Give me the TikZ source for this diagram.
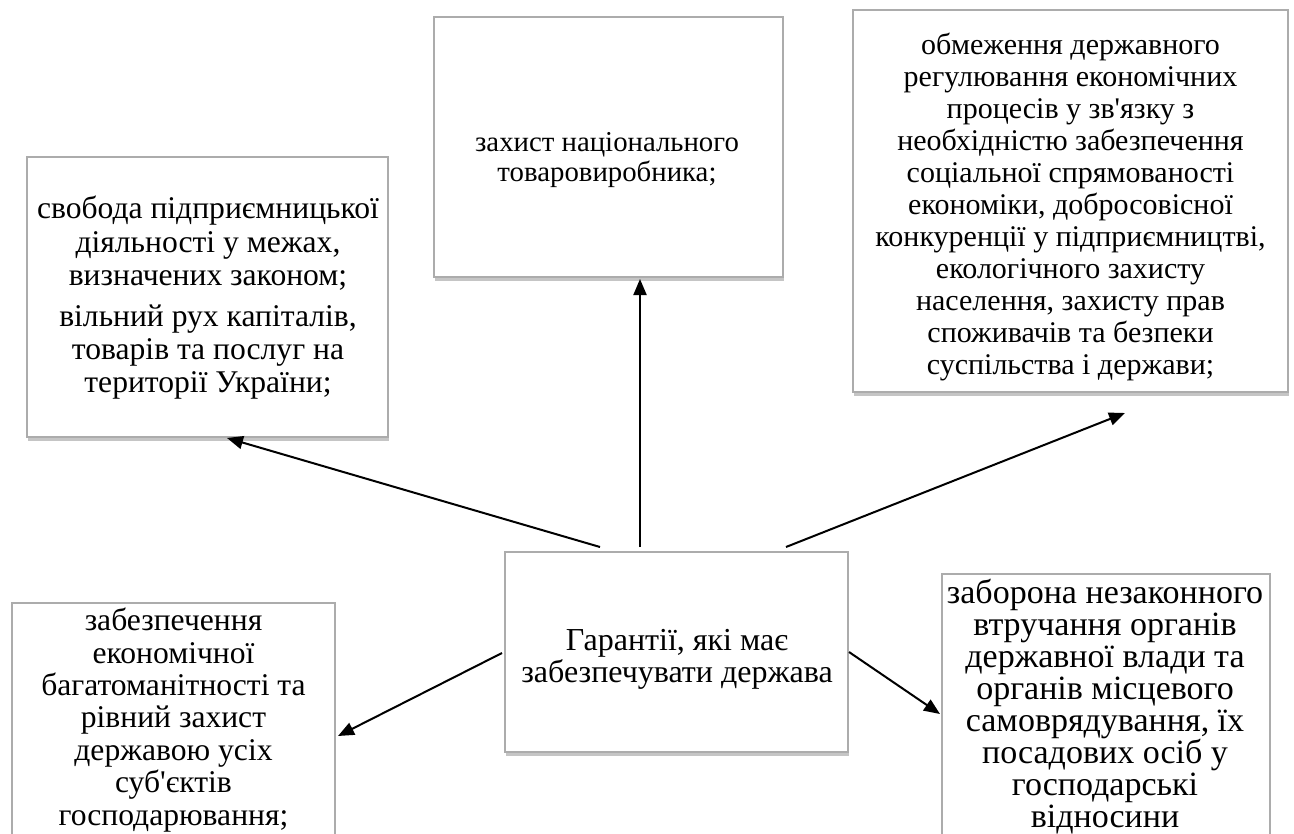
\documentclass[tikz,border=0pt]{standalone}
\usepackage{fontspec}
\setmainfont{Liberation Serif}
\usetikzlibrary{arrows.meta,shadows}
\begin{document}
\begin{tikzpicture}[x=0.5pt,y=-0.5pt,
  box/.style={draw=gray!65, line width=0.7pt, fill=white,
    drop shadow={shadow xshift=0.5pt, shadow yshift=-1.8pt, opacity=0.45},
    inner sep=0pt},
  txt/.style={align=center, inner sep=0pt},
  arr/.style={line width=1pt, -{Triangle[length=8pt,width=6.5pt]}}]
\useasboundingbox (0,0) rectangle (1294,834);
\clip (0,0) rectangle (1294,834);
\fill[white] (0,0) rectangle (1294,834);

% boxes
\node[box, minimum width=180.5pt, minimum height=140pt] (b1) at (207.5,297) {};
\node[box, minimum width=174.5pt, minimum height=130pt] (b2) at (608.5,147) {};
\node[box, minimum width=217.5pt, minimum height=191pt] (b3) at (1070.5,201) {};
\node[box, minimum width=161.5pt, minimum height=121pt] (b4) at (173.5,724) {};
\node[box, minimum width=171.5pt, minimum height=100pt] (b5) at (676.5,652) {};
\node[box, minimum width=164pt, minimum height=137pt] (b6) at (1106,711) {};

% texts
\node[txt, font=\fontsize{15.8pt}{16.6pt}\selectfont] (t1) at (208,298) {свобода підприємницької\\ діяльності у межах,\\ визначених законом;\\[4pt] вільний рух капіталів,\\ товарів та послуг на\\ території України;};
\node[txt, font=\fontsize{14.4pt}{15pt}\selectfont] (t2) at (607,160) {захист національного\\ товаровиробника;};
\node[txt, font=\fontsize{15pt}{16pt}\selectfont] (t3) at (1070.5,207) {обмеження державного\\ регулювання економічних\\ процесів у зв\textquotesingle язку з\\ необхідністю забезпечення\\ соціальної спрямованості\\ економіки, добросовісної\\ конкуренції у підприємництві,\\ екологічного захисту\\ населення, захисту прав\\ споживачів та безпеки\\ суспільства і держави;};
\node[txt, font=\fontsize{15.8pt}{16.2pt}\selectfont] (t4) at (173.5,720) {забезпечення\\ економічної\\ багатоманітності та\\ рівний захист\\ державою усіх\\ суб\textquotesingle єктів\\ господарювання;};
\node[txt, font=\fontsize{16pt}{16pt}\selectfont] (t5) at (677,659) {Гарантії, які має\\ забезпечувати держава};
\node[txt, font=\fontsize{17pt}{16pt}\selectfont] (t6) at (1105,707) {заборона незаконного\\ втручання органів\\ державної влади та\\ органів місцевого\\ самоврядування, їх\\ посадових осіб у\\ господарські\\ відносини};

% connector ends
\coordinate (a1s) at (600,547);
\coordinate (a1e) at (227,438);
\coordinate (a2s) at (640,547);
\coordinate (a2e) at (640,279);
\coordinate (a3s) at (786,547);
\coordinate (a3e) at (1125,413);
\coordinate (a4s) at (502,653);
\coordinate (a4e) at (338,736);
\coordinate (a5s) at (849,652);
\coordinate (a5e) at (940,714);

\draw[arr] (a1s) -- (a1e);
\draw[arr] (a2s) -- (a2e);
\draw[arr] (a3s) -- (a3e);
\draw[arr] (a4s) -- (a4e);
\draw[arr] (a5s) -- (a5e);
\end{tikzpicture}
\end{document}
